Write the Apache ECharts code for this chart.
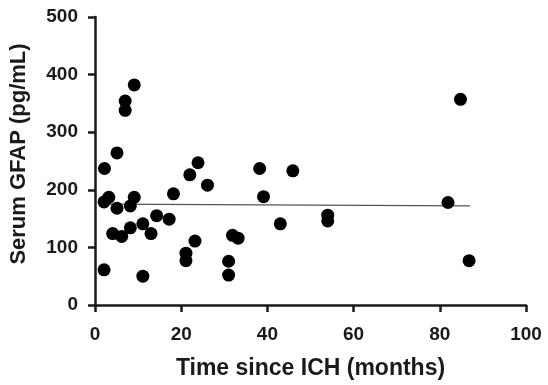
<!DOCTYPE html>
<html>
<head>
<meta charset="utf-8">
<script src="https://cdn.jsdelivr.net/npm/echarts@6/dist/echarts.min.js"></script>
<style>html,body{margin:0;padding:0;background:#fff}#c{width:548px;height:385px}</style>
</head>
<body>
<div id="c"></div>
<script>
// Data
const monthsX = [2.2, 2.1, 3.2, 5.1, 5.1, 4.1, 6.2, 7.0, 7.0, 9.1, 9.1, 8.2, 8.2, 2.1, 11.1, 11.1, 13.0, 14.3, 17.2, 18.2, 21.1, 21.1, 22.0, 23.2, 23.9, 26.1, 31.0, 31.0, 31.9, 33.2, 38.2, 39.1, 43.0, 45.9, 54.0, 54.0, 81.9, 84.8, 86.8];
const gfapY   = [237, 179, 187, 264, 168, 124, 119, 354, 338, 382, 187, 172, 134, 61, 141, 50, 124, 155, 149, 193, 90, 77, 226, 111, 247, 208, 76, 52, 121, 116, 237, 188, 141, 233, 156, 146, 178, 357, 77];
const fitX = [2, 87];
const fitY = [175, 172];
const xTicks = [0, 20, 40, 60, 80, 100];
const yTicks = [0, 100, 200, 300, 400, 500];

const points = monthsX.map((x, i) => [x, gfapY[i]]);
const fitLine = fitX.map((x, i) => [x, fitY[i]]);

const axisFont = {fontFamily: 'Liberation Sans, Arial, sans-serif', fontWeight: 'bold', color: '#1a1a1a'};
const chart = echarts.init(document.getElementById('c'), null, {renderer: 'canvas'});
chart.setOption({
  animation: false,
  backgroundColor: '#fff',
  grid: {left: 93, right: 22, top: 17, bottom: 80},
  xAxis: {
    type: 'value', min: xTicks[0], max: xTicks[xTicks.length - 1], interval: 20,
    name: 'Time since ICH (months)', nameLocation: 'middle', nameGap: 52,
    nameTextStyle: Object.assign({fontSize: 23}, axisFont),
    axisLine: {show: true, onZero: false, lineStyle: {color: '#1a1a1a', width: 2.5}},
    axisTick: {show: true, length: 7, lineStyle: {color: '#1a1a1a', width: 2.5}},
    axisLabel: Object.assign({fontSize: 19, margin: 20}, axisFont),
    splitLine: {show: false}
  },
  yAxis: {
    type: 'value', min: yTicks[0], max: yTicks[yTicks.length - 1], interval: 100,
    name: 'Serum GFAP (pg/mL)', nameLocation: 'middle', nameGap: 65,
    nameTextStyle: Object.assign({fontSize: 22, padding: [0, 0, 0, 14]}, axisFont),
    axisLine: {show: true, onZero: false, lineStyle: {color: '#1a1a1a', width: 2.5}},
    axisTick: {show: true, length: 7, lineStyle: {color: '#1a1a1a', width: 2.5}},
    axisLabel: Object.assign({fontSize: 19, margin: 17}, axisFont),
    splitLine: {show: false}
  },
  series: [
    {
      type: 'line', data: fitLine, symbol: 'none', z: 1,
      lineStyle: {color: '#555', width: 1.3}
    },
    {
      type: 'scatter', data: points, symbol: 'circle', symbolSize: 13, z: 2,
      itemStyle: {color: '#000', opacity: 1}
    }
  ]
});
</script>
</body>
</html>
